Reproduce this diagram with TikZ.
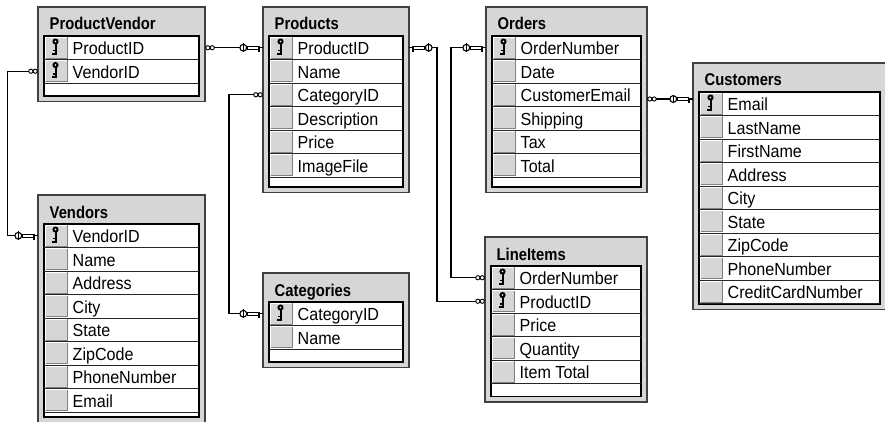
\documentclass[tikz,border=0pt]{standalone}
\usepackage{fontspec}
\newfontfamily\rowfont[FakeStretch=0.92]{Liberation Sans}
\newfontfamily\headfont[FakeStretch=0.87]{Liberation Sans}
\definecolor{panel}{HTML}{D6D6D6}

% One table of the relationship view:
% #1 name, #2 left, #3 top, #4 right, #5 title, #6 number of rows,
% #7 height of the empty row below the fields, #8 fields as flag/text (k = key)
\newcommand\dbtable[8]{%
  \pgfmathsetmacro\tInB{#3+29+#6*23.5+#7}%
  \pgfmathsetmacro\tOutB{\tInB+5.5}%
  \filldraw[tabouter] (#2,#3) rectangle (#4,\tOutB);
  \node[tabtitle] (#1-title) at (#2+11.5,#3+23) {#5};
  \filldraw[tabinner] (#2+6,#3+29) rectangle (#4-6,\tInB);
  \foreach \fl/\tx [count=\i] in {#8} {
    \pgfmathsetmacro\rowTop{#3+29+(\i-1)*23.5}
    \pgfmathsetmacro\rowBot{\rowTop+23.5}
    \pgfmathsetmacro\rowMid{\rowTop+11.75}
    \fill[keycell] (#2+7,\rowTop+1) rectangle (#2+29.5,\rowBot-1);
    \draw[hilite] (#2+7.5,\rowBot-1.5) -- (#2+7.5,\rowTop+1.3) -- (#2+29,\rowTop+1.3);
    \draw[shade] (#2+7.5,\rowBot-1.3) -- (#2+29.5,\rowBot-1.3) -- (#2+29.5,\rowTop+1);
    \draw[rowrule] (#2+6,\rowBot) -- (#4-6,\rowBot);
    \node[rowanchor, minimum width={(#4-#2)*1pt}] (#1-\i) at ({(#2+#4)/2},\rowMid) {};
    \node[rowtext] (#1-\i-text) at (#2+34.5,\rowTop+18.8) {\tx};
    \if\fl k\pic at (#2+17.5,\rowMid) {rowkey};\fi
  }
}

\begin{document}
\begin{tikzpicture}[x=1pt,y=-1pt,
  tabouter/.style={fill=panel, draw=black!75, line width=1.3pt},
  tabinner/.style={fill=white, draw=black, line width=1.5pt},
  rowrule/.style={draw=black!85, line width=0.9pt},
  keycell/.style={fill=panel},
  hilite/.style={draw=white, line width=1pt},
  shade/.style={draw=black!50, line width=1pt},
  rowanchor/.style={inner sep=0pt, minimum height=23.5pt, draw=none},
  rowtext/.style={inner sep=0pt, anchor=base west, font=\rowfont\fontsize{17.5}{20}\selectfont},
  tabtitle/.style={inner sep=0pt, anchor=base west, font=\headfont\bfseries\fontsize{17}{20}\selectfont},
  conn/.style={draw=black, line width=1.2pt},
  % "one" end: key lying along the line, table edge at the origin
  keyend/.pic={
    \fill[black] (-4.6,-1.3) rectangle (-2.4,3.8);
    \filldraw[fill=white, draw=black, line width=0.8pt] (-15,-1.4) rectangle (-4.6,1.4);
    \filldraw[fill=white, draw=black, line width=1.1pt] (-19.5,0) circle (3.4);
    \draw[black, line width=1.5pt] (-19.5,-4.3) -- (-19.5,4.3);
  },
  % "many" end: infinity sign, table edge at the origin
  manyend/.pic={
    \filldraw[fill=white, draw=black, line width=0.9pt] (-2.6,0) circle (2.1) (-7,0) circle (2.1);
  },
  % key glyph of a primary-key field
  rowkey/.pic={
    \fill[black] (0,-6.2) circle (3.1);
    \fill[white] (0,-6.2) circle (0.9);
    \fill[black] (-1,-4) rectangle (1,6.8);
    \fill[black] (-3.4,5) rectangle (1,6.8);
    \fill[black] (-2.8,2) rectangle (0,3.3);
  }
]
\useasboundingbox (0,0) rectangle (885,422);
\fill[white] (0,0) rectangle (885,422);

\dbtable{pv}{38}{7}{205}{ProductVendor}{2}{13}{k/ProductID, k/VendorID}
\dbtable{pr}{263}{7}{409}{Products}{6}{10}{k/ProductID, n/Name, n/CategoryID, n/Description, n/Price, n/ImageFile}
\dbtable{or}{486}{7}{647}{Orders}{6}{10}{k/OrderNumber, n/Date, n/CustomerEmail, n/Shipping, n/Tax, n/Total}
\dbtable{cu}{693}{63}{886}{Customers}{9}{0.5}{k/Email, n/LastName, n/FirstName, n/Address, n/City, n/State, n/ZipCode, n/PhoneNumber, n/CreditCardNumber}
\dbtable{ve}{38}{195}{205}{Vendors}{8}{5}{k/VendorID, n/Name, n/Address, n/City, n/State, n/ZipCode, n/PhoneNumber, n/Email}
\dbtable{ca}{263}{273}{409}{Categories}{2}{13}{k/CategoryID, n/Name}
\dbtable{li}{485}{237}{647}{LineItems}{5}{13}{k/OrderNumber, k/ProductID, n/Price, n/Quantity, n/Item Total}

% vertical runs of the relationship lines
\coordinate (busA) at (7.5,0);
\coordinate (busB) at (229,0);
\coordinate (busC) at (437,0);
\coordinate (busD) at (451,0);
\coordinate (busE) at (0,99);

\draw[conn] (pv-1.east) -- (pr-1.west);
\draw[conn] (pv-2.west) -- (pv-2.west -| busA) |- (ve-1.west);
\draw[conn] (pr-3.west) -- (pr-3.west -| busB) |- (ca-1.west);
\draw[conn] (pr-1.east) -- (pr-1.east -| busC) |- (li-2.west);
\draw[conn] (or-1.west) -- (or-1.west -| busD) |- (li-1.west);
\draw[conn] (or-3.east |- busE) -- (cu-1.west |- busE);

% relationship ends
\pic[xscale=-1] at (pv-1.east) {manyend};
\pic at (pr-1.west) {keyend};
\pic at (pv-2.west) {manyend};
\pic at (ve-1.west) {keyend};
\pic at (pr-3.west) {manyend};
\pic at (ca-1.west) {keyend};
\pic[xscale=-1] at (pr-1.east) {keyend};
\pic at (li-2.west) {manyend};
\pic at (or-1.west) {keyend};
\pic at (li-1.west) {manyend};
\pic[xscale=-1] at (or-3.east |- busE) {manyend};
\pic at (cu-1.west |- busE) {keyend};
\end{tikzpicture}
\end{document}
